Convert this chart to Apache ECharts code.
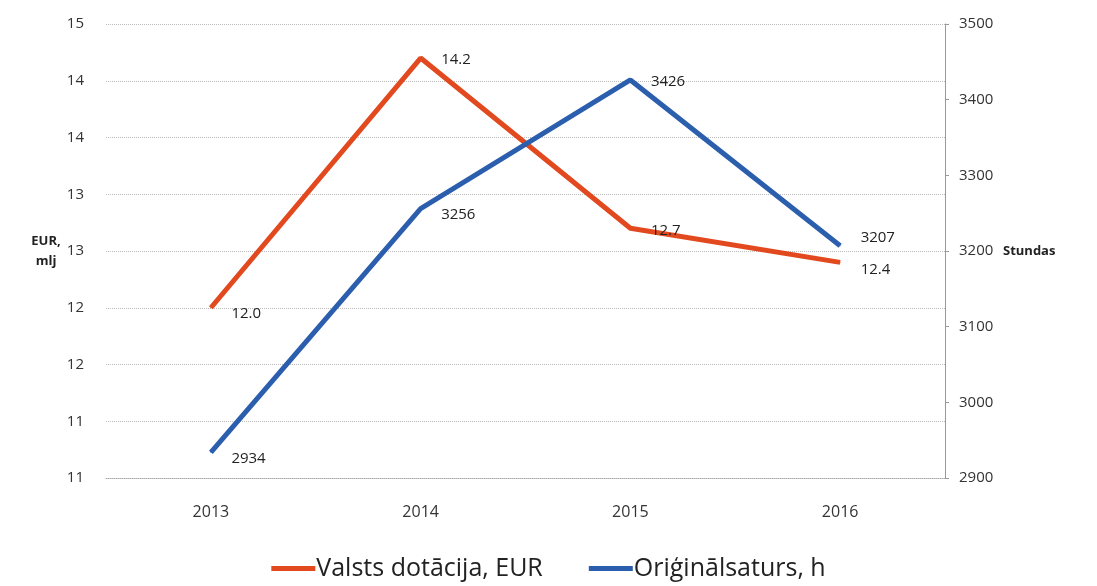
<!DOCTYPE html>
<html>
<head>
<meta charset="utf-8">
<script src="https://cdn.jsdelivr.net/npm/echarts@6/dist/echarts.min.js"></script>
<style>
  html, body { margin: 0; padding: 0; background: #fff; }
  #chart { width: 1097px; height: 586px; }
</style>
</head>
<body>
<div id="chart"></div>
<script>
var years = ['2013', '2014', '2015', '2016'];
var dotacija = [12.0, 14.2, 12.7, 12.4];
var stundas = [2934, 3256, 3426, 3207];

var font = '"Open Sans", "DejaVu Sans", sans-serif';
var red = '#e2491f';
var blue = '#2b5fad';

var chart = echarts.init(document.getElementById('chart'));

// kreisā ass: 10.5 - 14.5, etiķetes noapaļotas līdz veselam skaitlim
var option = {
  animation: false,
  textStyle: { fontFamily: font },
  grid: { left: 106, right: 152, top: 24, bottom: 108 },
  legend: {
    bottom: 0,
    left: 'center',
    itemGap: 46,
    itemWidth: 44,
    itemHeight: 5,
    icon: 'rect',
    textStyle: { fontSize: 25, color: '#222', fontFamily: font, padding: [0, 0, 0, -4] },
    data: ['Valsts dotācija, EUR', 'Oriģinālsaturs, h']
  },
  xAxis: {
    type: 'category',
    data: years,
    axisLine: { lineStyle: { color: '#aaa', type: 'dotted', width: 1 } },
    axisTick: { show: false },
    axisLabel: { fontSize: 16, color: '#333', margin: 26 }
  },
  yAxis: [
    {
      type: 'value',
      min: 10.5,
      max: 14.5,
      interval: 0.5,
      name: 'EUR,\nmlj',
      nameLocation: 'middle',
      nameRotate: 0,
      nameGap: 60,
      nameTextStyle: { fontSize: 13, fontWeight: 'bold', color: '#222', align: 'center', lineHeight: 20 },
      axisLine: { show: false },
      axisTick: { show: false },
      axisLabel: {
        fontSize: 15, color: '#333', margin: 22,
        formatter: function (v) { return Math.round(v); }
      },
      splitLine: { lineStyle: { color: '#bbb', type: 'dotted', width: 1 } }
    },
    {
      type: 'value',
      min: 2900,
      max: 3500,
      interval: 100,
      name: 'Stundas',
      nameLocation: 'middle',
      nameRotate: 0,
      nameGap: 58,
      nameTextStyle: { fontSize: 13, fontWeight: 'bold', color: '#222', align: 'left' },
      axisLine: { show: true, lineStyle: { color: '#999', width: 1 } },
      axisTick: { show: true, length: 4, lineStyle: { color: '#999' } },
      axisLabel: { fontSize: 15, color: '#333', margin: 14, formatter: function (v) { return String(v); } },
      splitLine: { show: false }
    }
  ],
  series: [
    {
      name: 'Valsts dotācija, EUR',
      type: 'line',
      yAxisIndex: 0,
      data: dotacija,
      color: red,
      symbol: 'circle',
      symbolSize: 1,
      showSymbol: true,
      lineStyle: { width: 5, color: red },
      label: {
        show: true, position: 'right', distance: 20, fontSize: 15, color: '#222',
        formatter: function (p) { return p.value.toFixed(1); }
      },
      labelLayout: function (p) {
        var dy = [6, 2, 2, 7][p.dataIndex];
        return { dy: dy };
      }
    },
    {
      name: 'Oriģinālsaturs, h',
      type: 'line',
      yAxisIndex: 1,
      data: stundas,
      color: blue,
      symbol: 'circle',
      symbolSize: 1,
      showSymbol: true,
      lineStyle: { width: 5, color: blue },
      label: { show: true, position: 'right', distance: 20, fontSize: 15, color: '#222' },
      labelLayout: function (p) {
        var dy = [6, 6, 2, -8][p.dataIndex];
        return { dy: dy };
      }
    }
  ]
};

chart.setOption(option);
</script>
</body>
</html>
